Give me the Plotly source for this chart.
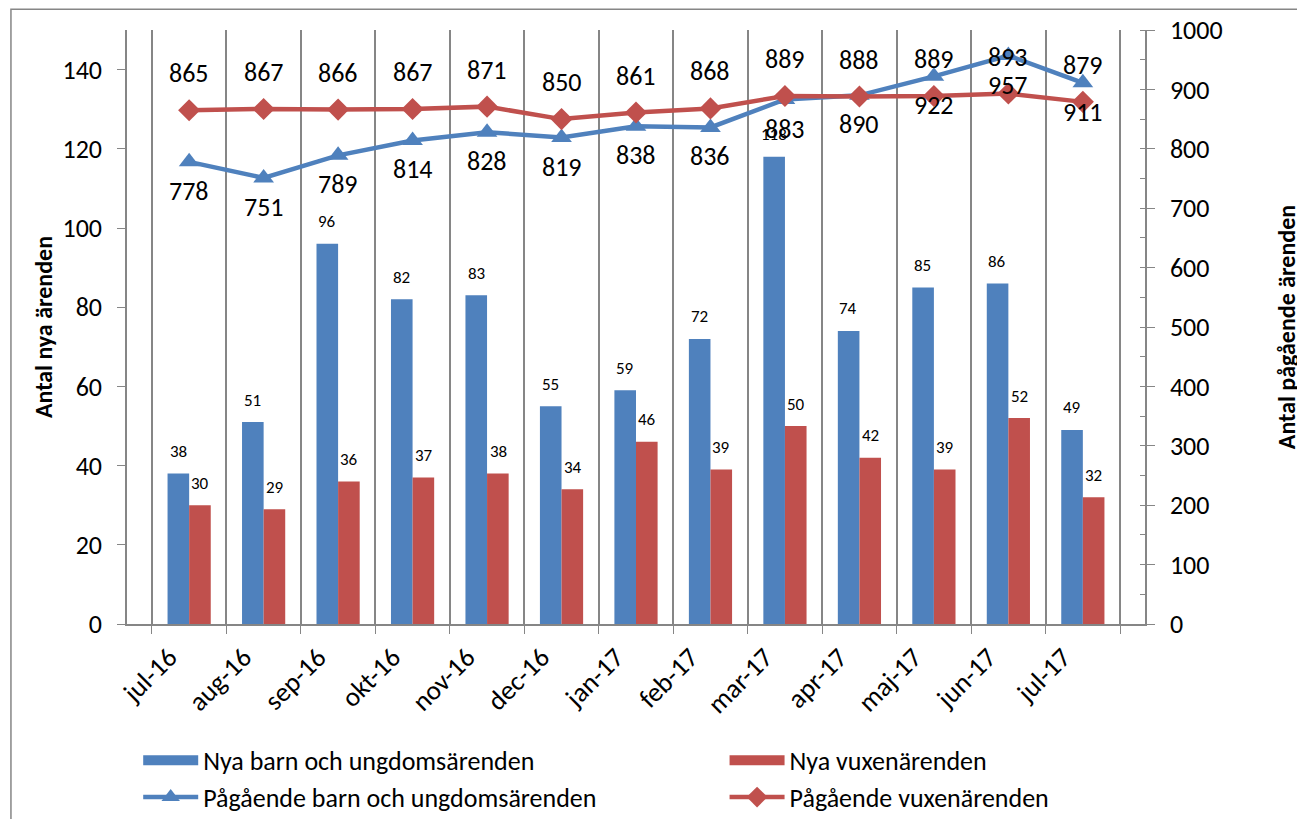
import plotly.graph_objects as go

# Data
manader = ['jul-16', 'aug-16', 'sep-16', 'okt-16', 'nov-16', 'dec-16', 'jan-17',
           'feb-17', 'mar-17', 'apr-17', 'maj-17', 'jun-17', 'jul-17']
nya_barn = [38, 51, 96, 82, 83, 55, 59, 72, 118, 74, 85, 86, 49]
nya_vuxen = [30, 29, 36, 37, 38, 34, 46, 39, 50, 42, 39, 52, 32]
pag_barn = [778, 751, 789, 814, 828, 819, 838, 836, 883, 890, 922, 957, 911]
pag_vuxen = [865, 867, 866, 867, 871, 850, 861, 868, 889, 888, 889, 893, 879]

blue = '#4F81BD'
red = '#C0504D'
grey = '#868686'
font = 'Calibri, Carlito, Lato, sans-serif'

fig = go.Figure()

fig.add_trace(go.Bar(x=manader, y=nya_barn, name='Nya barn och ungdomsärenden',
                     marker=dict(color=blue, line=dict(width=0)), showlegend=False))
fig.add_trace(go.Bar(x=manader, y=nya_vuxen, name='Nya vuxenärenden',
                     marker=dict(color=red, line=dict(width=0)), showlegend=False))
fig.add_trace(go.Scatter(x=manader, y=pag_barn, name='Pågående barn och ungdomsärenden',
                         yaxis='y2', mode='lines+markers', showlegend=False,
                         line=dict(color=blue, width=4.5),
                         marker=dict(symbol='triangle-up', size=18, color=blue)))
fig.add_trace(go.Scatter(x=manader, y=pag_vuxen, name='Pågående vuxenärenden',
                         yaxis='y2', mode='lines+markers', showlegend=False,
                         line=dict(color=red, width=4.5),
                         marker=dict(symbol='diamond', size=17, color=red)))

# legend entries (Excel style: wide bar swatches), two columns
fig.add_trace(go.Scatter(x=[None], y=[None], mode='lines', name='Nya barn och ungdomsärenden',
                         line=dict(color=blue, width=14), legend='legend'))
fig.add_trace(go.Scatter(x=[None], y=[None], mode='lines+markers', name='Pågående barn och ungdomsärenden',
                         line=dict(color=blue, width=4.5),
                         marker=dict(symbol='triangle-up', size=17, color=blue), legend='legend'))
fig.add_trace(go.Scatter(x=[None], y=[None], mode='lines', name='Nya vuxenärenden',
                         line=dict(color=red, width=14), legend='legend2'))
fig.add_trace(go.Scatter(x=[None], y=[None], mode='lines+markers', name='Pågående vuxenärenden',
                         line=dict(color=red, width=4.5),
                         marker=dict(symbol='diamond', size=17, color=red), legend='legend2'))

# Data labels
annots = []
for m, v in zip(manader, nya_barn):
    annots.append(dict(x=m, y=v, text=str(v), showarrow=False, xshift=-11, yshift=22,
                       font=dict(size=17, color='black')))
for m, v in zip(manader, nya_vuxen):
    annots.append(dict(x=m, y=v, text=str(v), showarrow=False, xshift=11, yshift=22,
                       font=dict(size=17, color='black')))
for m, v in zip(manader, pag_barn):
    annots.append(dict(x=m, y=v, yref='y2', text=str(v), showarrow=False, yshift=-29,
                       font=dict(size=26, color='black')))
for m, v in zip(manader, pag_vuxen):
    annots.append(dict(x=m, y=v, yref='y2', text=str(v), showarrow=False, yshift=37,
                       font=dict(size=26, color='black')))

leg = dict(orientation='v', y=-0.19, xanchor='left', yanchor='top',
           font=dict(size=26), tracegroupgap=0, itemwidth=55, bgcolor='rgba(0,0,0,0)')

# page has an 8px body margin, so the figure is 8px smaller than the window
fig.update_layout(
    width=1297, height=811,
    margin=dict(l=119, r=160, t=22, b=195, autoexpand=False),
    paper_bgcolor='white', plot_bgcolor='white',
    font=dict(family=font, size=25, color='black'),
    barmode='group', bargap=0.42, bargroupgap=0,
    showlegend=True,
    legend=dict(leg, x=0.011),
    legend2=dict(leg, x=0.587),
    xaxis=dict(type='category', tickson='boundaries', ticks='outside', ticklen=8,
               tickcolor=grey, showgrid=True, gridcolor=grey, gridwidth=1.5,
               showline=True, linecolor=grey, linewidth=1.5,
               tickangle=-45, tickfont=dict(size=27), ticklabelshift=-20,
               ticklabelstandoff=5),
    yaxis=dict(range=[0, 150], tickvals=[0, 20, 40, 60, 80, 100, 120, 140],
               showgrid=False, zeroline=False, showline=True, linecolor=grey, linewidth=1.5,
               ticks='outside', ticklen=8, tickcolor=grey, tickfont=dict(size=26),
               ticklabelstandoff=10,
               title=dict(text='<b>Antal nya ärenden</b>', font=dict(size=24), standoff=3)),
    yaxis2=dict(range=[0, 1000], dtick=100, overlaying='y', side='right',
                showgrid=False, zeroline=False, showline=True, linecolor=grey, linewidth=1.5,
                ticks='outside', ticklen=8, tickcolor=grey, tickfont=dict(size=26),
                ticklabelstandoff=10,
                minor=dict(dtick=50, ticks='inside', ticklen=5, tickcolor=grey),
                title=dict(text='<b>Antal pågående ärenden</b>', font=dict(size=24), standoff=57)),
    annotations=annots,
    shapes=[dict(type='rect', xref='paper', yref='paper', x0=-0.114, x1=1.3,
                 y0=-0.6, y1=1.035, line=dict(color=grey, width=1.5),
                 fillcolor='rgba(0,0,0,0)', layer='below')],
)

fig.write_html('out.html')
